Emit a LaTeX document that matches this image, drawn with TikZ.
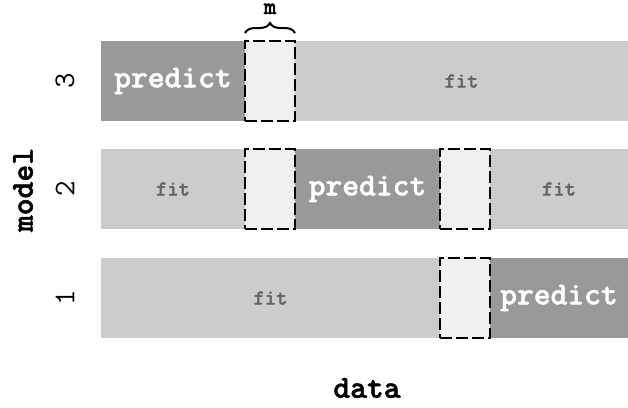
\documentclass[tikz,border=0pt]{standalone}
\usepackage{fontspec}
\newfontfamily\heavymono[FakeBold=1.6]{lmmonolt10-bold.otf}
\usepackage{tikz}
\usetikzlibrary{positioning}
\usetikzlibrary{decorations.pathreplacing}
\definecolor{predgray}{HTML}{999999}
\definecolor{fitgray}{HTML}{CCCCCC}
\definecolor{fittext}{HTML}{666666}
\definecolor{gapgray}{HTML}{F0F0F0}
\tikzset{
seg/.style={
  rectangle,
  inner sep=0pt,
  outer sep=0pt,
  minimum height=80pt,
  anchor=north west
  },
fitseg/.style={
  seg,
  fill=fitgray,
  text=fittext,
  font=\fontsize{21.5}{24}\selectfont\heavymono
  },
predseg/.style={
  seg,
  fill=predgray,
  text=white,
  font=\fontsize{32}{36}\selectfont\heavymono
  },
gapseg/.style={
  seg,
  minimum width=50pt,
  fill=gapgray,
  draw=black,
  line width=2.5pt,
  dash pattern=on 12pt off 4pt
  },
axlab/.style={
  inner sep=0pt,
  font=\fontsize{32}{36}\selectfont\heavymono
  },
numlab/.style={
  inner sep=0pt,
  rotate=90,
  font=\fontsize{30}{34}\selectfont\ttfamily
  }
}
\begin{document}
\begin{tikzpicture}[x=1pt,y=-1pt]
\useasboundingbox (0,0) rectangle (628,407);
% row 3
\node[predseg, minimum width=144pt] (p3) at (101,41) {predict};
\node[fitseg, minimum width=333pt] (f3) [right=50pt of p3] {fit};
\node[gapseg] (g3) [right=0pt of p3] {};
% row 2
\node[fitseg, minimum width=144pt] (f2a) at (101,149) {fit};
\node[predseg, minimum width=145pt] (p2) [right=50pt of f2a] {predict};
\node[fitseg, minimum width=138pt] (f2b) [right=50pt of p2] {fit};
\node[gapseg] (g2a) [right=0pt of f2a] {};
\node[gapseg] (g2b) [right=0pt of p2] {};
% row 1
\node[fitseg, minimum width=339pt] (f1) at (101,258) {fit};
\node[predseg, minimum width=138pt] (p1) [right=50pt of f1] {predict};
\node[gapseg] (g1) [right=0pt of f1] {};
% labels
\node[numlab] (n3) at (65,81) {3};
\node[numlab] (n2) at (65,189) {2};
\node[numlab] (n1) at (65,298) {1};
\node[axlab, rotate=90] (model) at (23,190) {model};
\node[axlab] (data) at (367,388) {data};
\draw[line width=2pt, decorate, decoration={brace, amplitude=10pt}]
  ([yshift=8pt]g3.north west) -- ([yshift=8pt]g3.north east);
\node[axlab, anchor=base, font=\fontsize{24}{26}\selectfont\heavymono] (mlab) at (270,14) {m};
\end{tikzpicture}
\end{document}
